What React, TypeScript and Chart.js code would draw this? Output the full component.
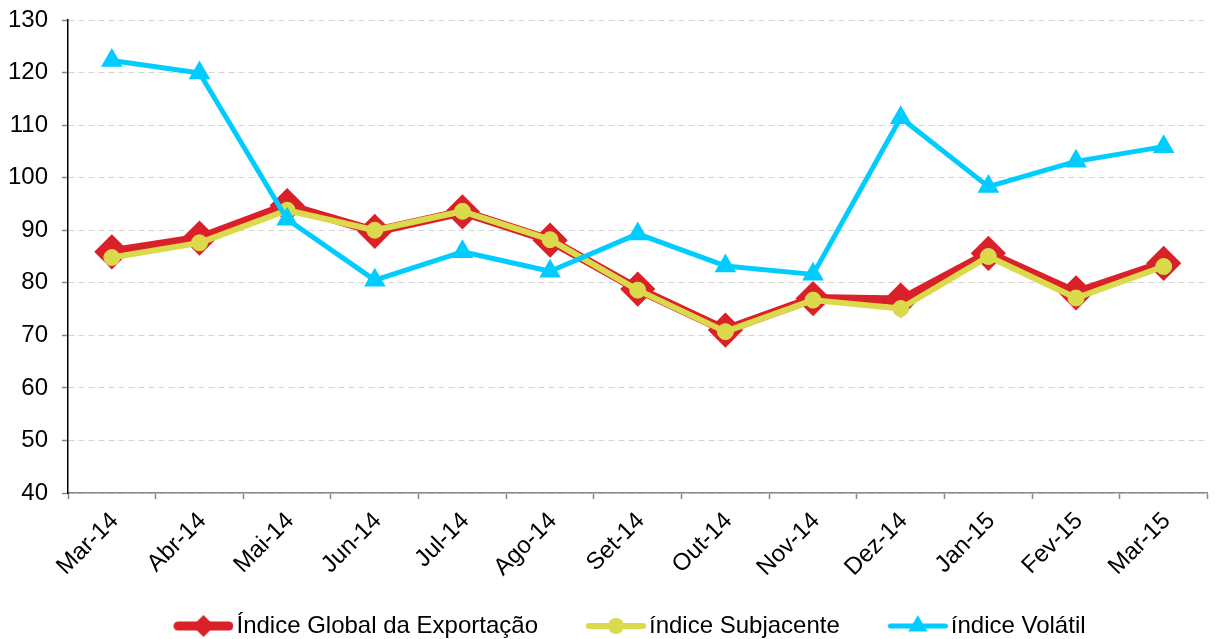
import React, { useEffect, useRef } from 'react';
import { Chart, registerables } from 'chart.js';

Chart.register(...registerables);

const categories = ['Mar-14', 'Abr-14', 'Mai-14', 'Jun-14', 'Jul-14', 'Ago-14', 'Set-14', 'Out-14', 'Nov-14', 'Dez-14', 'Jan-15', 'Fev-15', 'Mar-15'];
const globalExport = [85.9, 88.5, 94.7, 89.8, 93.5, 88.1, 78.8, 71.0, 77.0, 76.7, 85.6, 78.1, 83.7];
const underlying = [84.8, 87.6, 93.8, 90.0, 93.6, 88.2, 78.6, 70.7, 76.7, 75.1, 85.0, 77.1, 83.1];
const volatile = [122.3, 119.9, 92.1, 80.5, 85.9, 82.2, 89.3, 83.2, 81.6, 111.4, 98.3, 103.1, 105.9];
const seriesNames = ['Índice Global da Exportação', 'índice Subjacente', 'índice Volátil'];
const yMin = 40;
const yMax = 130;
const yStep = 10;

const FONT = "'Liberation Sans', Arial, sans-serif";
const RED = '#DA2129';
const YELLOW = '#DADA4C';
const BLUE = '#00CCFF';

// legend symbol: 60px line segment with marker, placed off-centre in a wider canvas
const IMG_W = 102;
const IMG_CONTENT_LEFT = 42;

function legendImage(color: string, lineWidth: number, style: string, radius: number) {
  const c = document.createElement('canvas');
  c.width = IMG_W;
  c.height = 40;
  const ctx = c.getContext('2d')!;
  const cy = 20;
  const x0 = IMG_CONTENT_LEFT;
  const cx = x0 + 30;
  ctx.strokeStyle = color;
  ctx.fillStyle = color;
  ctx.lineWidth = lineWidth;
  ctx.lineCap = 'round';
  ctx.beginPath();
  ctx.moveTo(x0 + lineWidth / 2, cy);
  ctx.lineTo(x0 + 60 - lineWidth / 2, cy);
  ctx.stroke();
  ctx.beginPath();
  if (style === 'rectRot') {
    ctx.moveTo(cx, cy - radius);
    ctx.lineTo(cx + radius, cy);
    ctx.lineTo(cx, cy + radius);
    ctx.lineTo(cx - radius, cy);
  } else if (style === 'circle') {
    ctx.arc(cx, cy, radius, 0, Math.PI * 2);
  } else {
    const w = radius * Math.sqrt(3) / 2;
    ctx.moveTo(cx, cy - radius);
    ctx.lineTo(cx + w, cy + radius / 2);
    ctx.lineTo(cx - w, cy + radius / 2);
  }
  ctx.closePath();
  ctx.fill();
  return c;
}

export default function App() {
  const ref = useRef<HTMLCanvasElement | null>(null);

  useEffect(() => {
    if (!ref.current) return;
    const imgs = [
      legendImage(RED, 9, 'rectRot', 11),
      legendImage(YELLOW, 6, 'circle', 8),
      legendImage(BLUE, 5, 'triangle', 11),
    ];
    const colors = [RED, YELLOW, BLUE];

    const chart = new Chart(ref.current, {
      type: 'line',
      data: {
        labels: categories,
        datasets: [
          {
            label: seriesNames[0],
            data: globalExport,
            borderColor: RED,
            backgroundColor: RED,
            borderWidth: 9,
            pointStyle: 'rectRot',
            pointRadius: 15.5,
            pointBorderWidth: 3,
            pointBorderColor: RED,
            pointBackgroundColor: RED,
            borderJoinStyle: 'round',
            borderCapStyle: 'round',
            tension: 0,
            order: 2,
          },
          {
            label: seriesNames[1],
            data: underlying,
            borderColor: YELLOW,
            backgroundColor: YELLOW,
            borderWidth: 6,
            pointStyle: 'circle',
            pointRadius: 8,
            pointBorderWidth: 1,
            pointBorderColor: YELLOW,
            pointBackgroundColor: YELLOW,
            borderJoinStyle: 'round',
            borderCapStyle: 'round',
            tension: 0,
            order: 1,
          },
          {
            label: seriesNames[2],
            data: volatile,
            borderColor: BLUE,
            backgroundColor: BLUE,
            borderWidth: 5,
            pointStyle: 'triangle',
            pointRadius: 10.5,
            pointBorderWidth: 2,
            pointBorderColor: BLUE,
            pointBackgroundColor: BLUE,
            borderJoinStyle: 'round',
            borderCapStyle: 'round',
            tension: 0,
            order: 0,
          },
        ],
      },
      options: {
        responsive: false,
        animation: false,
        events: [],
        layout: { padding: { left: 0, right: 0, top: 20, bottom: 0 } },
        font: { family: FONT, size: 24 },
        plugins: {
          tooltip: { enabled: false },
          title: { display: false },
          legend: {
            position: 'bottom',
            maxHeight: 40,
            labels: {
              usePointStyle: true,
              pointStyleWidth: 84,
              padding: 15,
              color: '#000',
              font: { family: FONT, size: 24 },
              generateLabels: () =>
                seriesNames.map((name, i) => ({
                  text: name,
                  fillStyle: colors[i],
                  strokeStyle: colors[i],
                  lineWidth: 0,
                  pointStyle: imgs[i] as any,
                  datasetIndex: i,
                  hidden: false,
                })),
            },
          },
        },
        scales: {
          x: {
            type: 'category',
            offset: true,
            grid: {
              display: true,
              offset: true,
              drawOnChartArea: false,
              drawTicks: true,
              tickLength: 6,
              color: '#898989',
              tickColor: '#898989',
              tickWidth: 1.5,
            },
            border: { display: true, color: '#898989', width: 1.5 },
            ticks: {
              autoSkip: false,
              minRotation: 45,
              maxRotation: 45,
              padding: 8,
              labelOffset: 3,
              color: '#000',
              font: { family: FONT, size: 24 },
            },
            afterFit: (scale: any) => {
              scale.height = 106;
            },
          },
          y: {
            min: yMin,
            max: yMax,
            grid: {
              display: true,
              drawOnChartArea: true,
              drawTicks: true,
              tickLength: 6,
              color: '#D4D4D4',
              lineWidth: 1,
              tickColor: '#898989',
              tickWidth: 1.5,
            },
            border: { display: true, color: '#000', width: 1.5, dash: [6, 4] },
            ticks: {
              stepSize: yStep,
              padding: 14,
              color: '#000',
              font: { family: FONT, size: 24 },
            },
            afterFit: (scale: any) => {
              scale.width = 68;
              scale.paddingTop = 12;
              scale.paddingBottom = 12;
            },
          },
        },
      },
    });
    return () => chart.destroy();
  }, []);

  return (
    <div style={{ position: 'fixed', left: 0, top: 0, width: 1222, height: 639, overflow: 'hidden', background: '#fff' }}>
      <canvas ref={ref} width={1226} height={639} style={{ display: 'block' }} />
    </div>
  );
}
